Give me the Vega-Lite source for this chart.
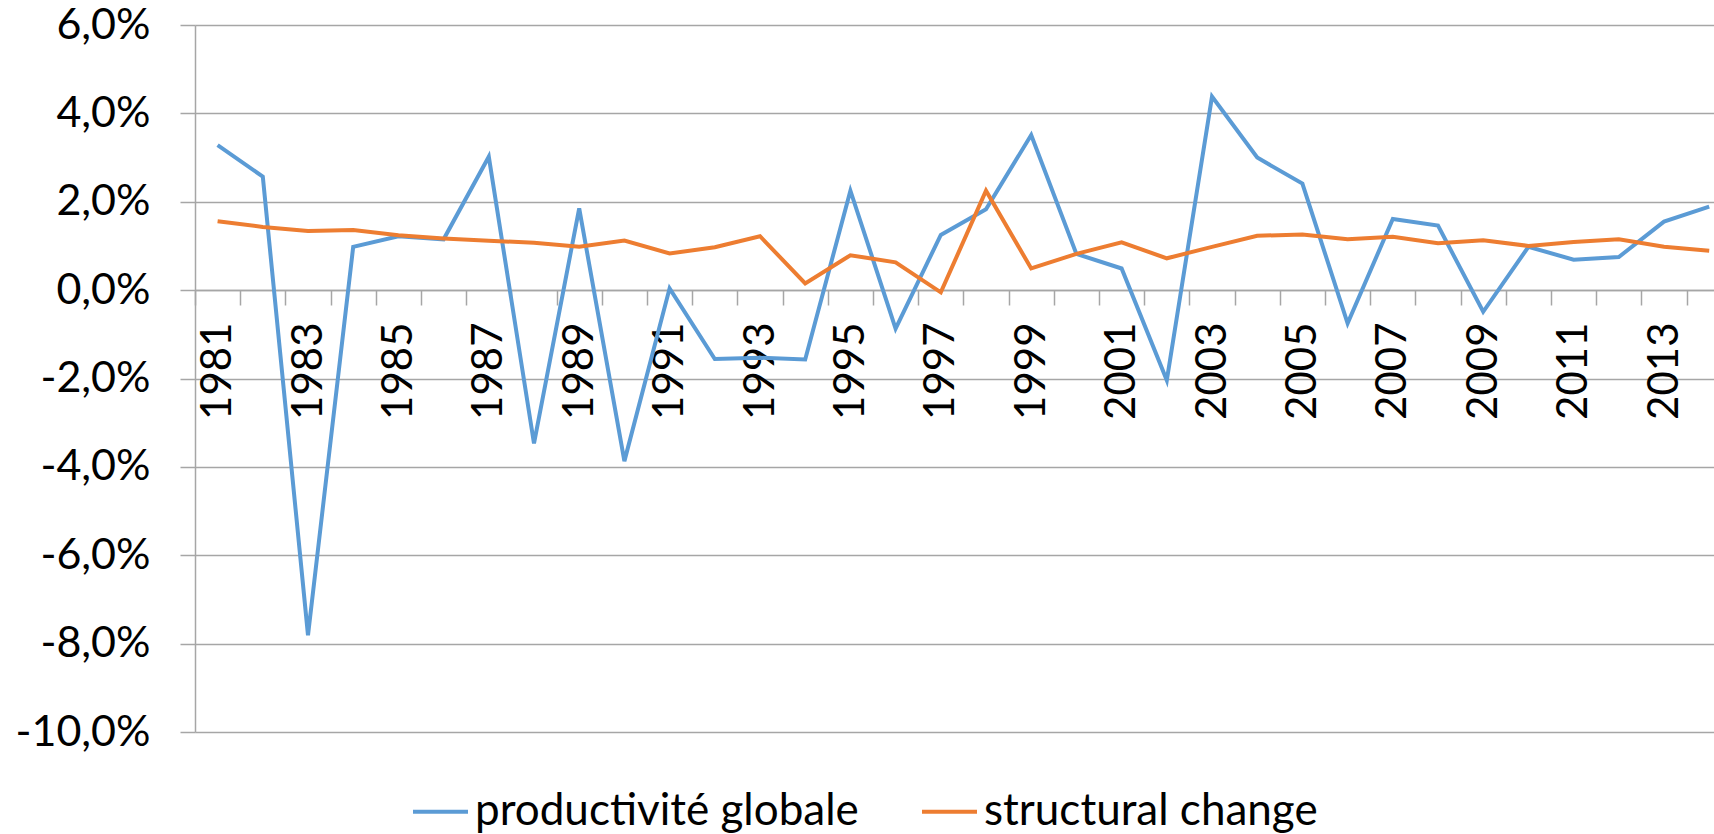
{
  "$schema": "https://vega.github.io/schema/vega-lite/v6.json",
  "width": 1519,
  "height": 707,
  "autosize": {"type": "none"},
  "padding": {"left": 195, "top": 25, "right": 0, "bottom": 102},
  "background": "white",
  "config": {"view": {"stroke": null}, "font": "Lato"},
  "data": {
    "values": [
      {"year": 1981, "series": "productivité globale", "value": 3.28},
      {"year": 1982, "series": "productivité globale", "value": 2.57},
      {"year": 1983, "series": "productivité globale", "value": -7.81},
      {"year": 1984, "series": "productivité globale", "value": 0.98},
      {"year": 1985, "series": "productivité globale", "value": 1.22},
      {"year": 1986, "series": "productivité globale", "value": 1.15},
      {"year": 1987, "series": "productivité globale", "value": 3.02},
      {"year": 1988, "series": "productivité globale", "value": -3.47},
      {"year": 1989, "series": "productivité globale", "value": 1.85},
      {"year": 1990, "series": "productivité globale", "value": -3.87},
      {"year": 1991, "series": "productivité globale", "value": 0.04},
      {"year": 1992, "series": "productivité globale", "value": -1.56},
      {"year": 1993, "series": "productivité globale", "value": -1.53},
      {"year": 1994, "series": "productivité globale", "value": -1.57},
      {"year": 1995, "series": "productivité globale", "value": 2.25},
      {"year": 1996, "series": "productivité globale", "value": -0.87},
      {"year": 1997, "series": "productivité globale", "value": 1.25},
      {"year": 1998, "series": "productivité globale", "value": 1.83},
      {"year": 1999, "series": "productivité globale", "value": 3.51},
      {"year": 2000, "series": "productivité globale", "value": 0.82},
      {"year": 2001, "series": "productivité globale", "value": 0.49},
      {"year": 2002, "series": "productivité globale", "value": -2.04},
      {"year": 2003, "series": "productivité globale", "value": 4.38},
      {"year": 2004, "series": "productivité globale", "value": 3.0},
      {"year": 2005, "series": "productivité globale", "value": 2.41},
      {"year": 2006, "series": "productivité globale", "value": -0.75},
      {"year": 2007, "series": "productivité globale", "value": 1.61},
      {"year": 2008, "series": "productivité globale", "value": 1.46},
      {"year": 2009, "series": "productivité globale", "value": -0.49},
      {"year": 2010, "series": "productivité globale", "value": 0.98},
      {"year": 2011, "series": "productivité globale", "value": 0.69},
      {"year": 2012, "series": "productivité globale", "value": 0.75},
      {"year": 2013, "series": "productivité globale", "value": 1.55},
      {"year": 2014, "series": "productivité globale", "value": 1.89},
      {"year": 1981, "series": "structural change", "value": 1.56},
      {"year": 1982, "series": "structural change", "value": 1.43},
      {"year": 1983, "series": "structural change", "value": 1.34},
      {"year": 1984, "series": "structural change", "value": 1.36},
      {"year": 1985, "series": "structural change", "value": 1.24},
      {"year": 1986, "series": "structural change", "value": 1.17},
      {"year": 1987, "series": "structural change", "value": 1.12},
      {"year": 1988, "series": "structural change", "value": 1.07},
      {"year": 1989, "series": "structural change", "value": 0.98},
      {"year": 1990, "series": "structural change", "value": 1.12},
      {"year": 1991, "series": "structural change", "value": 0.83},
      {"year": 1992, "series": "structural change", "value": 0.97},
      {"year": 1993, "series": "structural change", "value": 1.22},
      {"year": 1994, "series": "structural change", "value": 0.15},
      {"year": 1995, "series": "structural change", "value": 0.79},
      {"year": 1996, "series": "structural change", "value": 0.63},
      {"year": 1997, "series": "structural change", "value": -0.05},
      {"year": 1998, "series": "structural change", "value": 2.25},
      {"year": 1999, "series": "structural change", "value": 0.49},
      {"year": 2000, "series": "structural change", "value": 0.82},
      {"year": 2001, "series": "structural change", "value": 1.08},
      {"year": 2002, "series": "structural change", "value": 0.72},
      {"year": 2003, "series": "structural change", "value": 0.98},
      {"year": 2004, "series": "structural change", "value": 1.23},
      {"year": 2005, "series": "structural change", "value": 1.26},
      {"year": 2006, "series": "structural change", "value": 1.15},
      {"year": 2007, "series": "structural change", "value": 1.21},
      {"year": 2008, "series": "structural change", "value": 1.06},
      {"year": 2009, "series": "structural change", "value": 1.13},
      {"year": 2010, "series": "structural change", "value": 1.0},
      {"year": 2011, "series": "structural change", "value": 1.09},
      {"year": 2012, "series": "structural change", "value": 1.15},
      {"year": 2013, "series": "structural change", "value": 0.98},
      {"year": 2014, "series": "structural change", "value": 0.89}
    ]
  },
  "mark": {"type": "line", "strokeWidth": 4},
  "encoding": {
    "x": {
      "field": "year",
      "type": "quantitative",
      "scale": {"domain": [1980.5, 2014.106], "nice": false, "zero": false},
      "axis": {
        "values": [1980.5, 1981, 1981.5, 1982.5, 1983, 1983.5, 1984.5, 1985, 1985.5, 1986.5, 1987, 1987.5, 1988.5, 1989, 1989.5, 1990.5, 1991, 1991.5, 1992.5, 1993, 1993.5, 1994.5, 1995, 1995.5, 1996.5, 1997, 1997.5, 1998.5, 1999, 1999.5, 2000.5, 2001, 2001.5, 2002.5, 2003, 2003.5, 2004.5, 2005, 2005.5, 2006.5, 2007, 2007.5, 2008.5, 2009, 2009.5, 2010.5, 2011, 2011.5, 2012.5, 2013, 2013.5],
        "labelExpr": "datum.value % 2 == 1 ? format(datum.value, 'd') : ''",
        "grid": false,
        "ticks": true,
        "tickSize": 15,
        "tickColor": "#A6A6A6",
        "tickWidth": 1.5,
        "tickOpacity": {"condition": {"test": "datum.value % 1 != 0", "value": 1}, "value": 0},
        "domain": true,
        "domainColor": "#A6A6A6",
        "domainWidth": 1.5,
        "labelAngle": -90,
        "labelAlign": "right",
        "labelBaseline": "middle",
        "labelFont": "Lato",
        "labelFontSize": 42,
        "labelColor": "black",
        "labelPadding": 17,
        "labelFlush": false,
        "labelOverlap": false,
        "offset": -442,
        "title": null
      }
    },
    "y": {
      "field": "value",
      "type": "quantitative",
      "scale": {"domain": [-10, 6], "nice": false, "zero": false},
      "axis": {
        "values": [-10, -8, -6, -4, -2, 0, 2, 4, 6],
        "grid": true,
        "gridColor": "#A6A6A6",
        "gridWidth": 1.5,
        "domainColor": "#A6A6A6",
        "domainWidth": 1.5,
        "tickColor": "#A6A6A6",
        "tickWidth": 1.5,
        "tickSize": 15,
        "labelFont": "Lato",
        "labelFontSize": 43,
        "labelColor": "black",
        "labelPadding": 30,
        "labelExpr": "replace(replace(format(datum.value, '.1f'), '.', ','), '−', '-') + '%'",
        "title": null
      }
    },
    "color": {
      "field": "series",
      "type": "nominal",
      "scale": {"domain": ["productivité globale", "structural change"], "range": ["#5B9BD5", "#ED7D31"]},
      "legend": {
        "orient": "none",
        "legendX": 216,
        "legendY": 757,
        "direction": "horizontal",
        "title": null,
        "symbolType": "stroke",
        "symbolStrokeWidth": 4,
        "symbolSize": 3025,
        "labelFont": "Lato",
        "labelFontSize": 44,
        "labelColor": "black",
        "labelOffset": 5,
        "columnPadding": 55,
        "labelLimit": 600
      }
    }
  }
}
